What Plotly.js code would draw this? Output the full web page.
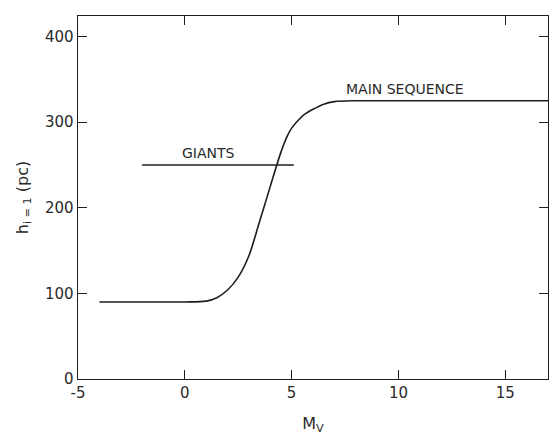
<!DOCTYPE html>
<html>
<head>
<meta charset="utf-8">
<script src="https://cdn.plot.ly/plotly-3.0.1.min.js"></script>
<style>
  html, body { margin: 0; padding: 0; background: #fff; }
  #chart { width: 560px; height: 440px; }
</style>
</head>
<body>
<div id="chart"></div>
<script>
// Scale height h_{i=1} (pc) as a function of absolute magnitude M_V
const mainMv = [-4, -2, 0, 1.0, 1.5, 2.0, 2.5, 3.0, 3.5, 4.0, 4.5, 4.8, 5.0, 5.3, 5.6, 6.0, 6.5, 7.0, 8, 10, 12, 14, 17];
const mainH  = [90, 90, 90, 91, 95, 104, 119, 144, 184, 225, 265, 284, 293, 302, 309, 315, 321, 324, 325, 325, 325, 325, 325];

const giantsMv = [-2, 5.1];
const giantsH  = [250, 250];

const labelText = ["GIANTS", "MAIN SEQUENCE"];
const labelMv   = [1.1, 10.3];
const labelH    = [264, 339];

const xTicks = [-5, 0, 5, 10, 15];
const yTicks = [0, 100, 200, 300, 400];

const ink = '#1e1e1e';
const textInk = '#2a2a2a';
const fontFam = 'DejaVu Sans, Liberation Sans, sans-serif';

const traces = [
  {
    x: mainMv, y: mainH, type: 'scatter', mode: 'lines',
    line: { color: ink, width: 1.6, shape: 'spline', smoothing: 0.8 },
    hoverinfo: 'skip'
  },
  {
    x: giantsMv, y: giantsH, type: 'scatter', mode: 'lines',
    line: { color: ink, width: 1.6 },
    hoverinfo: 'skip'
  }
];

const annotations = labelText.map((t, i) => ({
  x: labelMv[i], y: labelH[i], xref: 'x', yref: 'y',
  text: t, showarrow: false,
  font: { family: fontFam, size: 14, color: textInk }
}));

const axisCommon = {
  showgrid: false, zeroline: false,
  showline: true, linecolor: ink, linewidth: 1.4,
  mirror: 'ticks', ticks: 'inside', ticklen: 9, tickwidth: 1.1, tickcolor: ink,
  tickfont: { family: fontFam, size: 15, color: textInk },
  automargin: false
};

const layout = {
  width: 560, height: 440,
  margin: { l: 78, r: 12, t: 16, b: 61 },
  paper_bgcolor: '#fff', plot_bgcolor: '#fff',
  showlegend: false,
  xaxis: Object.assign({}, axisCommon, {
    range: [-5, 17], tickvals: xTicks, ticktext: xTicks.map(String),
    title: { text: 'M<sub>V</sub>', font: { family: fontFam, size: 16, color: textInk }, standoff: 16 }
  }),
  yaxis: Object.assign({}, axisCommon, {
    range: [0, 424], tickvals: yTicks, ticktext: yTicks.map(String),
    title: { text: 'h<sub>i = 1</sub> (pc)', font: { family: fontFam, size: 16, color: textInk }, standoff: 12 }
  }),
  annotations: annotations
};

Plotly.newPlot('chart', traces, layout, { staticPlot: true, displayModeBar: false });
</script>
</body>
</html>
